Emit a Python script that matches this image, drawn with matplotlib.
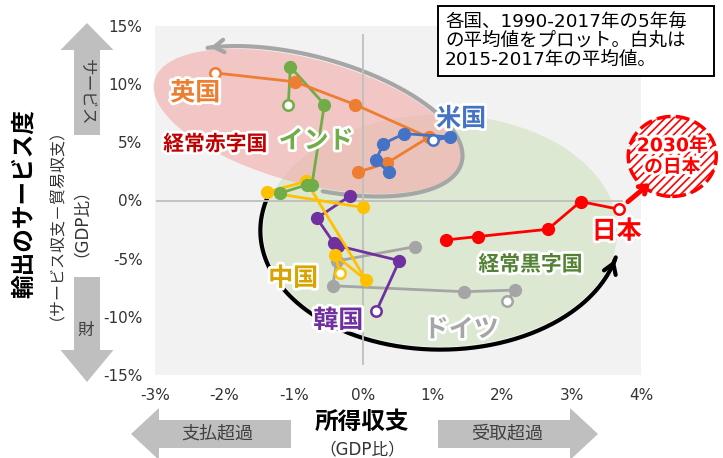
import numpy as np
import matplotlib
matplotlib.use('Agg')
import matplotlib.pyplot as plt
import matplotlib.patheffects as pe
from matplotlib.patches import Ellipse, Polygon, Rectangle
from matplotlib.transforms import Affine2D

plt.rcParams['font.family'] = ['DejaVu Sans', 'Noto Sans CJK JP']
plt.rcParams['hatch.linewidth'] = 1.2

# 5年毎の平均値 (x: 所得収支 GDP比%, y: サービス収支-貿易収支 GDP比%)、最後が2015-2017年
uk_x = [-0.08, 0.34, 0.94, -0.12, -0.98, -2.14]
uk_y = [2.44, 3.22, 5.43, 8.25, 10.2, 10.97]

us_x = [0.37, 0.18, 0.29, 0.59, 1.25, 1.01]
us_y = [2.44, 3.45, 4.89, 5.75, 5.46, 5.17]

india_x = [-1.20, -0.81, -0.74, -0.56, -1.05, -1.08]
india_y = [0.63, 1.35, 1.35, 8.25, 11.49, 8.25]

china_x = [0.00, -1.39, -0.82, 0.04, -0.41, -0.33]
china_y = [-0.60, 0.72, 1.64, -6.84, -4.68, -6.27]

korea_x = [-0.19, -0.67, -0.42, -0.36, 0.52, 0.19]
korea_y = [0.40, -1.52, -3.68, -3.90, -5.17, -9.48]

germany_x = [0.74, -0.38, -0.44, 1.45, 2.19, 2.07]
germany_y = [-3.97, -5.20, -7.33, -7.84, -7.70, -8.62]

japan_x = [1.19, 1.65, 2.66, 3.13, 3.68]
japan_y = [-3.39, -3.10, -2.47, -0.09, -0.75]

x_ticks = [-3, -2, -1, 0, 1, 2, 3, 4]
y_ticks = [-15, -10, -5, 0, 5, 10, 15]

W, H = 723, 458


def fpos(xp, yp):
    # pixel (from top-left) -> figure fraction
    return xp / W, 1 - yp / H


fig = plt.figure(figsize=(7.23, 4.58), dpi=100)
ax = fig.add_axes([155 / W, 83 / H, 486 / W, 349 / H])
ax.set_facecolor('#f2f2f2')
ax.set_xlim(-3, 4)
ax.set_ylim(-15, 15)
for s in ax.spines.values():
    s.set_visible(False)
ax.set_xticks(x_ticks)
ax.set_yticks(y_ticks)
ax.set_xticklabels(['{}%'.format(v) for v in x_ticks])
ax.set_yticklabels(['{}%'.format(v) for v in y_ticks])
ax.tick_params(length=0, labelsize=11, labelcolor='#333333')
ax.tick_params(axis='x', pad=9)
ax.tick_params(axis='y', pad=9)

# px per data unit
sx = 486 / 7.0
sy = 349 / 30.0
pix = Affine2D().scale(1 / sx, 1 / sy) + ax.transData


def arc(cx, cy, a, b, ang, t0, t1):
    t = np.radians(np.linspace(t0, t1, 200))
    th = np.radians(ang)
    px = a * np.cos(t) * np.cos(th) - b * np.sin(t) * np.sin(th)
    py = a * np.cos(t) * np.sin(th) + b * np.sin(t) * np.cos(th)
    return cx + px / sx, cy + py / sy


# 経常黒字国 / 経常赤字国 ellipses
g_c = (1.11, -2.59)
r_c = (-0.81, 6.81)
ax.add_patch(Ellipse((g_c[0] * sx, g_c[1] * sy), 354, 232, angle=0,
                     transform=pix, facecolor='#dce8d2', edgecolor='none', zorder=1))
ax.add_patch(Ellipse((r_c[0] * sx, r_c[1] * sy), 316, 124, angle=-15,
                     transform=pix, facecolor='#f4a9a9', alpha=0.6, edgecolor='none',
                     zorder=1.2, clip_on=False))

# gray arc round the deficit group
gx, gy = arc(r_c[0], r_c[1], 160, 65, -15, -78, 136)
ax.plot(gx, gy, color='#a6a6a6', lw=3, zorder=1.5, solid_capstyle='round')
ax.annotate('', xy=(gx[-1], gy[-1]), xytext=(gx[-4], gy[-4]),
            arrowprops=dict(arrowstyle='->,head_length=0.7,head_width=0.45',
                            color='#a6a6a6', lw=3), zorder=1.5)

# black arc round the surplus group
bx, by = arc(g_c[0], g_c[1], 180, 119, 0, 164, 347)
ax.plot(bx, by, color='black', lw=3, zorder=1.5, solid_capstyle='round')
ax.annotate('', xy=(bx[-1], by[-1]), xytext=(bx[-4], by[-4]),
            arrowprops=dict(arrowstyle='->,head_length=0.7,head_width=0.45',
                            color='black', lw=3), zorder=1.5)

# zero lines
ax.axvline(0, ymin=0.032, ymax=0.974, color='#bfbfbf', lw=1.3, zorder=1.8)
ax.axhline(0, xmin=0.004, xmax=0.961, color='#bfbfbf', lw=1.3, zorder=1.8)

series = [
    (germany_x, germany_y, '#a5a5a5'),
    (korea_x, korea_y, '#7030a0'),
    (china_x, china_y, '#ffc000'),
    (india_x, india_y, '#70ad47'),
    (uk_x, uk_y, '#ed7d31'),
    (us_x, us_y, '#4472c4'),
    (japan_x, japan_y, '#ff0000'),
]
for i, (xs, ys, c) in enumerate(series):
    z = 3 + i * 0.1
    ax.plot(xs, ys, color=c, lw=2, zorder=z)
    ax.plot(xs[:-1], ys[:-1], 'o', color=c, ms=8.5, zorder=z)
    ax.plot(xs[-1:], ys[-1:], 'o', mfc='white', mec=c, mew=1.8, ms=7.5, zorder=z)

glow = [pe.withStroke(linewidth=4, foreground='white')]
labels = [
    ('英国', -2.42, 9.22, '#ed7d31', 18),
    ('経常赤字国', -2.13, 4.83, '#c00000', 15),
    ('インド', -0.68, 5.1, '#70ad47', 18),
    ('米国', 1.41, 7.0, '#4472c4', 18),
    ('中国', -1.01, -6.72, '#d9a300', 18),
    ('韓国', -0.36, -10.34, '#7030a0', 18),
    ('ドイツ', 1.41, -11.12, '#a6a6a6', 18),
    ('経常黒字国', 2.41, -5.52, '#548235', 15),
    ('日本', 3.65, -2.67, '#ff0000', 18),
]
for s, lx, ly, c, fs in labels:
    ax.text(lx, ly, s, color=c, fontsize=fs, fontweight='bold', ha='center',
            va='center', path_effects=glow, zorder=6)

# 2030年の日本 badge
ax.add_patch(Ellipse((4.45 * sx, 3.79 * sy), 88, 80, transform=pix,
                     facecolor='white', edgecolor='#ff0000', hatch='////',
                     linestyle=(0, (4, 1.5)), lw=2.5, clip_on=False, zorder=7))
ax.text(4.45, 3.79, '2030年\nの日本', color='#ff0000', fontsize=13.5,
        fontweight='bold', ha='center', va='center', linespacing=1.15,
        path_effects=glow, zorder=8)
ax.annotate('', xy=(4.16, 1.64), xytext=(3.78, -0.26), annotation_clip=False,
            arrowprops=dict(arrowstyle='->,head_length=0.5,head_width=0.35',
                            color='#ff0000', lw=3.5), zorder=7)

# note box
x0, y0 = fpos(438, 76)
x1, y1 = fpos(714, 6)
fig.add_artist(Rectangle((x0, y0), x1 - x0, y1 - y0, transform=fig.transFigure,
                         facecolor='white', edgecolor='black', lw=1.4, zorder=10))
fig.text(*fpos(445, 41), '各国、1990-2017年の5年毎\nの平均値をプロット。白丸は\n2015-2017年の平均値。',
         fontsize=13.3, ha='left', va='center', linespacing=1.08, zorder=11)


# gray block arrows
def block_arrow(tip, base, head_w, shaft_w, head_len):
    tip = np.array(tip, float)
    base = np.array(base, float)
    u = (tip - base) / np.linalg.norm(tip - base)
    n = np.array([-u[1], u[0]])
    neck = tip - head_len * u
    pts = [base + n * shaft_w / 2, neck + n * shaft_w / 2, neck + n * head_w / 2, tip,
           neck - n * head_w / 2, neck - n * shaft_w / 2, base - n * shaft_w / 2]
    pts = [fpos(p[0], p[1]) for p in pts]
    fig.add_artist(Polygon(pts, closed=True, transform=fig.transFigure,
                           facecolor='#bfbfbf', edgecolor='none'))


block_arrow((87, 23), (87, 135), 53, 26, 27)
block_arrow((87, 382), (87, 277), 53, 26, 32)
block_arrow((131, 434), (291, 434), 52, 28, 28)
block_arrow((598, 434), (438, 434), 52, 28, 28)

fig.text(*fpos(87, 92), 'サービス', rotation=-90, fontsize=12, color='#404040',
         ha='center', va='center')
fig.text(*fpos(86, 330), '財', fontsize=12, color='#404040', ha='center', va='center')
fig.text(*fpos(217, 433), '支払超過', fontsize=13, color='#404040', ha='center', va='center')
fig.text(*fpos(507, 433), '受取超過', fontsize=13, color='#404040', ha='center', va='center')

# axis titles
fig.text(*fpos(24, 204), '輸出のサービス度', rotation=90, fontsize=17,
         fontweight='bold', ha='center', va='center')
fig.text(*fpos(49, 216), '（サービス収支－貿易収支）', rotation=90, fontsize=11.5,
         ha='center', va='center', color='#333333')
fig.text(*fpos(72, 214), '（GDP比）', rotation=90, fontsize=12,
         ha='center', va='center', color='#333333')
fig.text(*fpos(362, 422), '所得収支', fontsize=17, fontweight='bold',
         ha='center', va='center')
fig.text(*fpos(362, 449), '（GDP比）', fontsize=12, ha='center', va='center',
         color='#333333')

fig.savefig('out.png', dpi=100)
